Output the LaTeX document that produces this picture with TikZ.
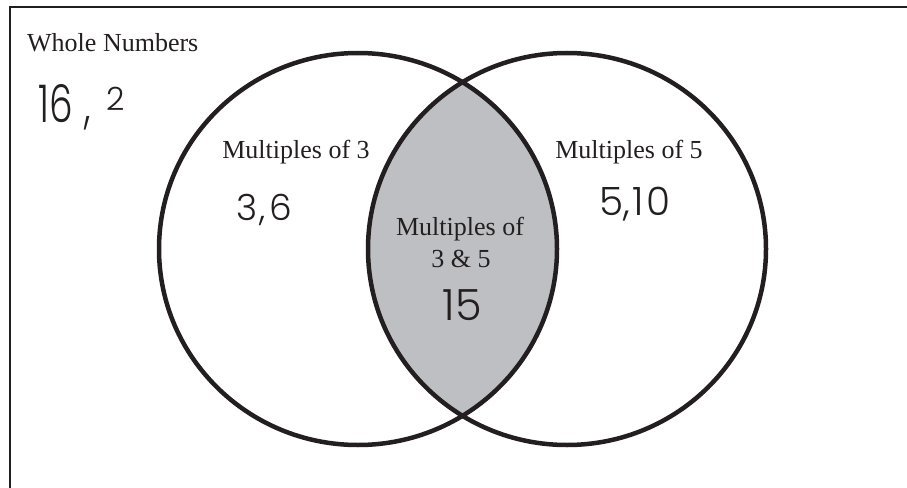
\documentclass[tikz,border=0pt]{standalone}
\usepackage{fontspec}
\setmainfont{Liberation Serif}
\newfontfamily\hand{Poppins}[UprightFont={* Light}]
\definecolor{ink}{HTML}{231F20}
\definecolor{lensgray}{HTML}{BEBFC2}
\begin{document}
\begin{tikzpicture}[x=1pt,y=-1pt,
  lbl/.style={font=\fontsize{26}{32}\selectfont, inner sep=0pt, text=ink},
  hw/.style={inner sep=0pt, text=ink},
  ring/.style={line width=4.5pt, draw=ink},
  frame/.style={line width=2.8pt, draw=ink}]
\useasboundingbox (0,0) rectangle (907,487);
\begin{scope}
  \clip (0,0) rectangle (907,487);
  \draw[frame] (10,530) -- (10,7) -- (950,7);
\end{scope}
% lens
\begin{scope}
  \clip (358,249) ellipse [x radius=199, y radius=196];
  \fill[lensgray] (567,249) ellipse [x radius=199, y radius=196];
\end{scope}
\draw[ring] (358,249) ellipse [x radius=199, y radius=196];
\draw[ring] (567,249) ellipse [x radius=199, y radius=196];
% labels
\node[lbl, anchor=base west] (whole) at (27,52) {Whole Numbers};
\node[hw, anchor=base west, font=\hand\fontsize{52}{52}\selectfont] (n16) at (38,122) {\scalebox{0.72}[1]{16\kern16pt,}};
\node[hw, anchor=base west, font=\hand\fontsize{32}{32}\selectfont] (n2) at (106,110) {2};
\node[lbl, anchor=base] (m3) at (296,158) {Multiples of 3};
\node[hw, anchor=base west, font=\hand\fontsize{36}{36}\selectfont] (v36) at (236,220) {3\kern2pt,\kern4pt6};
\node[lbl, anchor=base] (m5) at (629,158) {Multiples of 5};
\node[hw, anchor=base west, font=\hand\fontsize{39}{39}\selectfont] (v510) at (599,215) {5,\kern3pt1\kern2pt0};
\node[lbl, anchor=base] (m35a) at (460,235) {Multiples of};
\node[lbl, anchor=base] (m35b) at (461,267) {3 \& 5};
\node[hw, anchor=base, font=\hand\fontsize{43}{43}\selectfont] (v15) at (462,320) {15};
\end{tikzpicture}
\end{document}
